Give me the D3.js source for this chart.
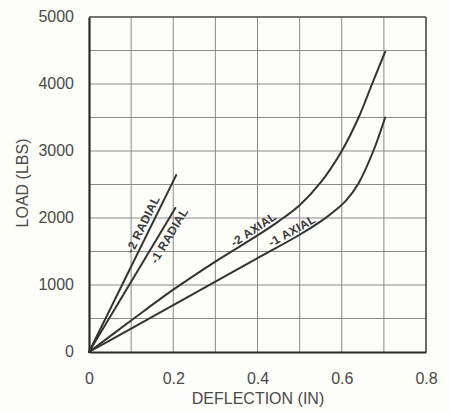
<!DOCTYPE html>
<html>
<head>
<meta charset="utf-8">
<script src="https://cdn.jsdelivr.net/npm/d3@7/dist/d3.min.js"></script>
<style>
  html, body { margin: 0; padding: 0; background: #fdfdf9; }
  svg { display: block; }
  text { font-family: "Liberation Sans", Arial, Helvetica, sans-serif; }
</style>
</head>
<body>
<svg id="chart" width="450" height="413"></svg>
<script>
// ---- data ----
const xTickValues = [0, 0.2, 0.4, 0.6, 0.8];
const xTickLabels = ["0", "0.2", "0.4", "0.6", "0.8"];
const yTickValues = [0, 1000, 2000, 3000, 4000, 5000];
const yTickLabels = ["0", "1000", "2000", "3000", "4000", "5000"];
const xGridValues = [0.1, 0.2, 0.3, 0.4, 0.5, 0.6, 0.7];
const yGridValues = [500, 1000, 1500, 2000, 2500, 3000, 3500, 4000, 4500];

const radial2X = [0, 0.207];
const radial2Y = [0, 2640];
const radial1X = [0, 0.205];
const radial1Y = [0, 2150];
const axial2X = [0, 0.1, 0.2, 0.3, 0.4, 0.45, 0.5, 0.55, 0.6, 0.64, 0.672, 0.703];
const axial2Y = [0, 470, 930, 1350, 1740, 1950, 2190, 2530, 3000, 3500, 4000, 4480];
const axial1X = [0, 0.1, 0.2, 0.3, 0.4, 0.5, 0.55, 0.58, 0.61, 0.64, 0.675, 0.703];
const axial1Y = [0, 350, 700, 1050, 1400, 1750, 1950, 2090, 2260, 2520, 3000, 3500];

const seriesNames = ["-2 RADIAL", "-1 RADIAL", "-2 AXIAL", "-1 AXIAL"];
const xTitle = "DEFLECTION (IN)";
const yTitle = "LOAD (LBS)";

// ---- build ----
const series = [
  { name: seriesNames[0], xs: radial2X, ys: radial2Y, at: 0.145, side: 1, off: 4 },
  { name: seriesNames[1], xs: radial1X, ys: radial1Y, at: 0.172, side: -1, off: 13 },
  { name: seriesNames[2], xs: axial2X, ys: axial2Y, at: 0.4, side: 1, off: 3 },
  { name: seriesNames[3], xs: axial1X, ys: axial1Y, at: 0.49, side: 1, off: 3 }
].map(s => ({ ...s, pts: s.xs.map((x, i) => [x, s.ys[i]]) }));

const svg = d3.select("#chart");
const x = d3.scaleLinear().domain([0, 0.8]).range([89, 426]);
const y = d3.scaleLinear().domain([0, 5000]).range([352, 17]);
const textColor = "#4a4a4a";

// grid
svg.append("g").selectAll("line").data(xGridValues).join("line")
  .attr("x1", d => x(d)).attr("x2", d => x(d))
  .attr("y1", y(0)).attr("y2", y(5000))
  .attr("stroke", "#8a8a8a").attr("stroke-width", 1);
svg.append("g").selectAll("line").data(yGridValues).join("line")
  .attr("x1", x(0)).attr("x2", x(0.8))
  .attr("y1", d => y(d)).attr("y2", d => y(d))
  .attr("stroke", "#8a8a8a").attr("stroke-width", 1);

// frame
svg.append("line").attr("x1", x(0)).attr("x2", x(0.8)).attr("y1", y(5000)).attr("y2", y(5000))
  .attr("stroke", "#444").attr("stroke-width", 1.6);
svg.append("line").attr("x1", x(0.8)).attr("x2", x(0.8)).attr("y1", y(0)).attr("y2", y(5000))
  .attr("stroke", "#444").attr("stroke-width", 1.6);

// axes
const xAxis = svg.append("g").attr("transform", `translate(0,${y(0)})`)
  .call(d3.axisBottom(x).tickValues(xTickValues).tickFormat((d, i) => xTickLabels[i]).tickSize(0).tickPadding(21));
xAxis.select(".domain").attr("stroke", "#2a2a2a").attr("stroke-width", 2.2);
xAxis.selectAll("text").attr("font-size", 16).attr("fill", textColor).attr("font-family", "Liberation Sans, Arial, sans-serif");

const yAxis = svg.append("g").attr("transform", `translate(${x(0)},0)`)
  .call(d3.axisLeft(y).tickValues(yTickValues).tickFormat((d, i) => yTickLabels[i]).tickSize(0).tickPadding(15));
yAxis.select(".domain").attr("stroke", "#2a2a2a").attr("stroke-width", 2.2);
yAxis.selectAll("text").attr("font-size", 16).attr("fill", textColor).attr("dy", "0.25em")
  .attr("font-family", "Liberation Sans, Arial, sans-serif");

// titles
svg.append("text").attr("x", 258).attr("y", 404).attr("text-anchor", "middle")
  .attr("font-size", 16).attr("fill", textColor).text(xTitle);
svg.append("text").attr("transform", "translate(28,183) rotate(-90)").attr("text-anchor", "middle")
  .attr("font-size", 16).attr("fill", textColor).text(yTitle);

// curves
const line = d3.line().x(d => x(d[0])).y(d => y(d[1])).curve(d3.curveCatmullRom.alpha(0.5));
svg.append("g").selectAll("path").data(series).join("path")
  .attr("d", d => line(d.pts))
  .attr("fill", "none").attr("stroke", "#333").attr("stroke-width", 2)
  .attr("stroke-linejoin", "round").attr("stroke-linecap", "round");

// labels along curves
function valueAt(xs, ys, v) {
  return d3.scaleLinear().domain(xs).range(ys)(v);
}
series.forEach(s => {
  const v = s.at, dv = 0.01;
  const px = x(v), py = y(valueAt(s.xs, s.ys, v));
  const px2 = x(v + dv), py2 = y(valueAt(s.xs, s.ys, v + dv));
  const ang = Math.atan2(py2 - py, px2 - px);
  const deg = ang * 180 / Math.PI;
  const nx = Math.sin(ang), ny = -Math.cos(ang);
  const dist = s.side > 0 ? s.off : -s.off;
  svg.append("text")
    .attr("transform", `translate(${px + nx * dist},${py + ny * dist}) rotate(${deg})`)
    .attr("text-anchor", "middle")
    .attr("font-size", 12).attr("font-weight", "bold").attr("letter-spacing", 0.3)
    .attr("fill", "#3a3a3a")
    .text(s.name);
});
</script>
</body>
</html>
